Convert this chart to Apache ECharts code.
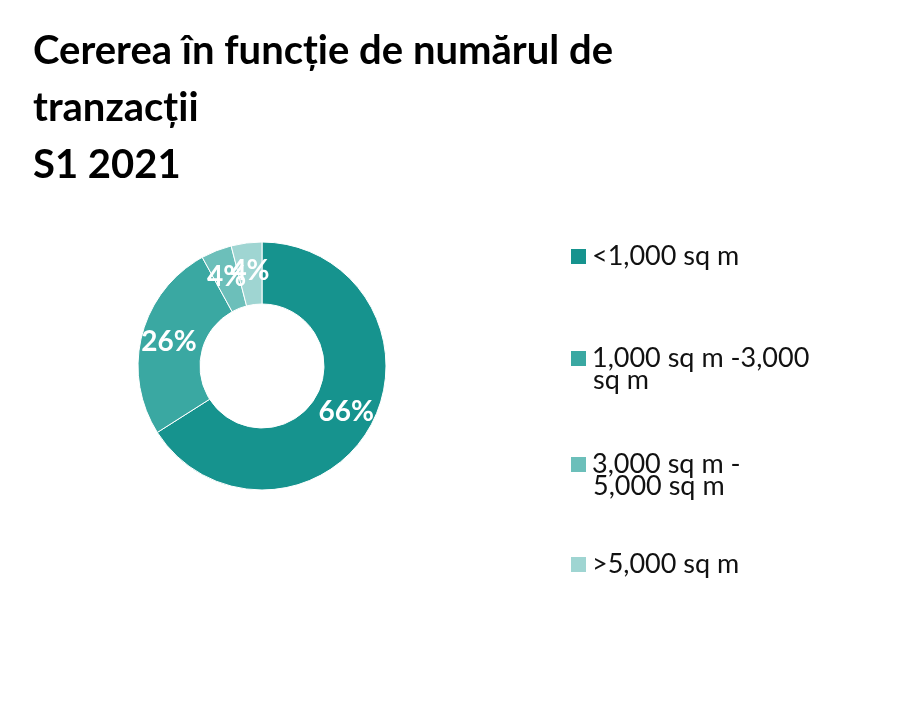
<!DOCTYPE html>
<html>
<head>
<meta charset="utf-8">
<script src="https://cdn.jsdelivr.net/npm/echarts@6/dist/echarts.min.js"></script>
<style>
  html, body { margin: 0; padding: 0; background: #fff; }
  #chart { width: 898px; height: 702px; }
</style>
</head>
<body>
<div id="chart"></div>
<script>
const titleText = 'Cererea în funcție de numărul de\ntranzacții\nS1 2021'
const categories = ['<1,000 sq m', '1,000 sq m -3,000\nsq m', '3,000 sq m -\n5,000 sq m', '>5,000 sq m']
const values = [66, 26, 4, 4]
const colors = ['#16938e', '#3aa8a2', '#6cbfba', '#9fd5d2']
const legendTops = [238, 340, 446, 546]

const font = 'Lato, "Open Sans", sans-serif'
const legendFont = 27

const chart = echarts.init(document.getElementById('chart'))

const legends = categories.map((name, i) => ({
  left: 564,
  top: legendTops[i],
  data: [name],
  icon: 'rect',
  itemWidth: 17,
  itemHeight: 17,
  itemGap: 0,
  selectedMode: false,
  formatter: n => n.split('\n')[0],
  textStyle: { fontFamily: font, fontSize: legendFont, color: '#111' }
}))

// continuation lines of wrapped legend labels
const extraLines = []
categories.forEach((name, i) => {
  name.split('\n').slice(1).forEach((line, j) => {
    extraLines.push({
      type: 'text',
      left: 593,
      top: legendTops[i] + 27 + 40 * j,
      style: { text: line, font: legendFont + 'px ' + font, fill: '#111' }
    })
  })
})

chart.setOption({
  color: colors,
  title: {
    text: titleText,
    left: 28,
    top: 18,
    textStyle: {
      fontFamily: font,
      fontSize: 40,
      fontWeight: 'bold',
      color: '#000',
      lineHeight: 57
    }
  },
  legend: legends,
  graphic: extraLines,
  series: [{
    type: 'pie',
    center: [262, 366],
    radius: [62, 124],
    startAngle: 90,
    clockwise: true,
    avoidLabelOverlap: false,
    labelLayout: { hideOverlap: false },
    itemStyle: { borderColor: '#fff', borderWidth: 1 },
    label: {
      position: 'inside',
      formatter: '{c}%',
      color: '#fff',
      fontFamily: font,
      fontSize: 28,
      fontWeight: 'bold'
    },
    labelLine: { show: false },
    data: categories.map((name, i) => ({ name, value: values[i] }))
  }]
})
</script>
</body>
</html>
